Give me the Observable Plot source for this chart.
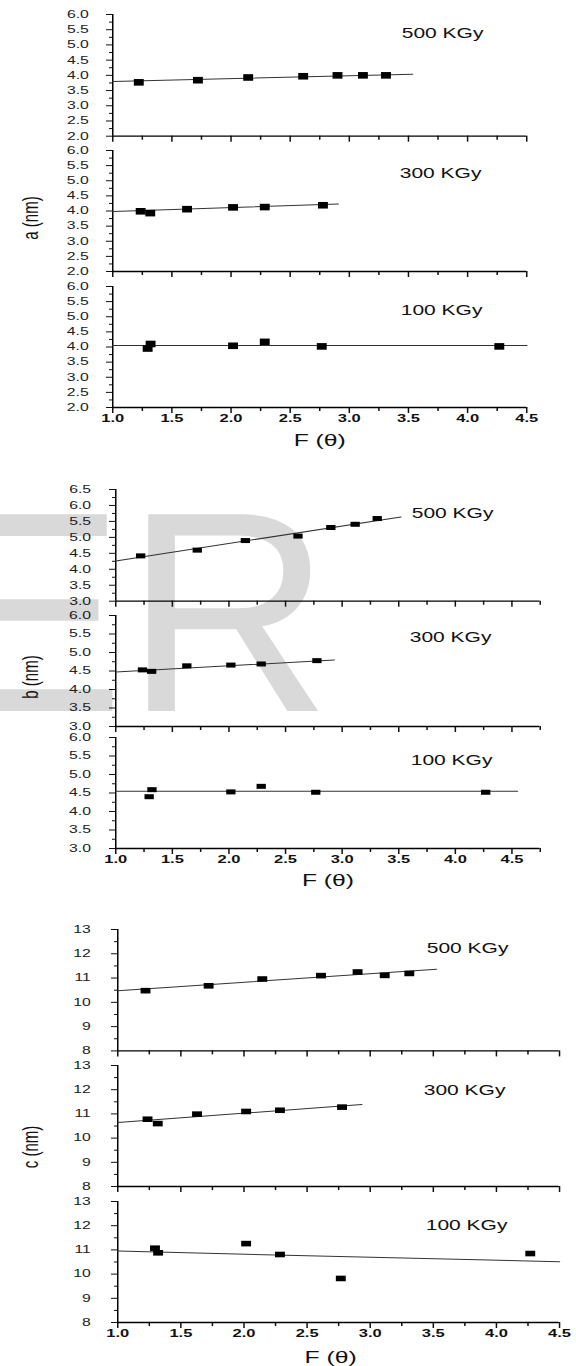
<!DOCTYPE html>
<html>
<head>
<meta charset="utf-8">
<script src="https://cdn.jsdelivr.net/npm/d3@7"></script>
<script src="https://cdn.jsdelivr.net/npm/@observablehq/plot@0.6"></script>
<style>
  html, body { margin: 0; padding: 0; background: #fff; }
  #root { position: relative; width: 576px; height: 1366px; overflow: hidden; }
  #root svg { position: absolute; left: 0; overflow: visible; }
</style>
</head>
<body>
<div id="root"></div>
<script>
// ---------------- data ----------------
const doses = ["500 KGy", "300 KGy", "100 KGy"];
const yTitles = ["a (nm)", "b (nm)", "c (nm)"];
const xTitle = "F (θ)";

// F(θ) values of the points for each dose
const f500 = [1.22, 1.72, 2.145, 2.61, 2.90, 3.115, 3.31];
const f300 = [1.236, 1.317, 1.628, 2.017, 2.285, 2.777];
const f100 = [1.295, 1.32, 2.017, 2.285, 2.767, 4.268];

// lattice parameter a (nm)
const a500 = [3.77, 3.84, 3.93, 3.97, 4.00, 4.00, 4.00];
const a300 = [3.99, 3.93, 4.06, 4.12, 4.13, 4.19];
const a100 = [3.95, 4.10, 4.04, 4.17, 4.02, 4.02];
// lattice parameter b (nm)
const b500 = [4.42, 4.60, 4.90, 5.04, 5.31, 5.41, 5.59];
const b300 = [4.53, 4.49, 4.64, 4.66, 4.69, 4.78];
const b100 = [4.40, 4.59, 4.53, 4.68, 4.52, 4.52];
// lattice parameter c (nm)
const c500 = [10.48, 10.68, 10.96, 11.10, 11.25, 11.11, 11.19];
const c300 = [10.78, 10.60, 10.99, 11.10, 11.15, 11.28];
const c100 = [11.07, 10.88, 11.26, 10.81, 9.82, 10.85];

// fitted lines: [start, end] F(θ) and values
const fitA500F = [1.0, 3.535], fitA500 = [3.80, 4.04];
const fitA300F = [1.0, 2.907], fitA300 = [3.98, 4.23];
const fitA100F = [1.0, 4.5],   fitA100 = [4.05, 4.05];
const fitB500F = [1.0, 3.519], fitB500 = [4.26, 5.64];
const fitB300F = [1.0, 2.93],  fitB300 = [4.47, 4.80];
const fitB100F = [1.0, 4.549], fitB100 = [4.55, 4.55];
const fitC500F = [1.0, 3.525], fitC500 = [10.48, 11.36];
const fitC300F = [1.0, 2.934], fitC300 = [10.64, 11.39];
const fitC100F = [1.0, 4.5],   fitC100 = [10.95, 10.51];

// ticks
const xMajor = [1.0, 1.5, 2.0, 2.5, 3.0, 3.5, 4.0, 4.5];
const xMinorA = [1.25, 1.75, 2.25, 2.75, 3.25, 3.75, 4.25];
const xMinorB = [1.25, 1.75, 2.25, 2.75, 3.25, 3.75, 4.25, 4.75];
const yMajorA = [2.0, 2.5, 3.0, 3.5, 4.0, 4.5, 5.0, 5.5, 6.0];
const yMinorA = [2.25, 2.75, 3.25, 3.75, 4.25, 4.75, 5.25, 5.75];
const yMajorB1 = [3.0, 3.5, 4.0, 4.5, 5.0, 5.5, 6.0, 6.5];
const yMinorB1 = [3.25, 3.75, 4.25, 4.75, 5.25, 5.75, 6.25];
const yMajorB = [3.0, 3.5, 4.0, 4.5, 5.0, 5.5, 6.0];
const yMinorB = [3.25, 3.75, 4.25, 4.75, 5.25, 5.75];
const yMajorC = [8, 9, 10, 11, 12, 13];
const yMinorC = [8.5, 9.5, 10.5, 11.5, 12.5];

// ---------------- layout ----------------
const S = 1.5;            // horizontal stretch of the original figure
const W = 576 / S;
const FONT = "'Liberation Sans', Arial, sans-serif";
const root = document.getElementById("root");

// watermark (behind the chart)
const wm = d3.select(root).append("svg")
  .attr("width", 576).attr("height", 1366).style("top", "0px");
wm.append("text").attr("x", -66).attr("y", 711)
  .attr("font-family", FONT).attr("font-size", 286).attr("fill", "#d9d9d9").text("ER");

function rectSymbol(w, h) {
  return { draw(ctx) {
    ctx.moveTo(-w / 2, -h / 2); ctx.lineTo(w / 2, -h / 2);
    ctx.lineTo(w / 2, h / 2); ctx.lineTo(-w / 2, h / 2); ctx.closePath();
  } };
}

function panel(c) {
  const mt = 12, mb = c.bottom ? 50 : 10;
  const fh = c.frameBottom - c.frameTop;
  const ml = c.axisPx / S, mr = (576 - c.endPx) / S;
  const pts = c.F.map((f, i) => ({ f, v: c.V[i] }));
  const fit = c.fitF.map((f, i) => ({ f, v: c.fitV[i] }));
  const marks = [
    Plot.axisY(c.yMajor, { tickSize: 4, tickPadding: c.yPad, tickFormat: c.yFmt, fontSize: 10.5, label: null, fill: "#222" }),
    Plot.axisY(c.yMinor, { tickSize: 2, tickFormat: () => "", label: null }),
    Plot.axisX(xMajor, { tickSize: 6, tickPadding: 1, tickFormat: c.bottom ? d3.format(".1f") : () => "",
      fontWeight: "bold", fontSize: 11, label: null, fill: "#111" }),
    Plot.axisX(c.xMinor, { tickSize: 4, tickFormat: () => "", label: null }),
    Plot.ruleX([c.xDomain[0]], { stroke: "#000", strokeWidth: 1 }),
    Plot.ruleY([c.yDomain[0]], { stroke: "#000", strokeWidth: 1.3 }),
    Plot.line(fit, { x: "f", y: "v", stroke: "#333", strokeWidth: 1 }),
    Plot.dot(pts, { x: "f", y: "v", symbol: c.sym, fill: "#000", stroke: "none", r: 4 }),
    Plot.text([c.dose], { text: d => d, frameAnchor: "top-left", dx: c.labelDx / S, dy: c.labelDy,
      textAnchor: "start", lineAnchor: "middle", fontSize: 14, fill: "#111" })
  ];
  if (c.ylab) {
    marks.push(Plot.text([c.ylab], { text: d => d, frameAnchor: "left", dx: c.ylabDx / S, dy: c.ylabDy,
      rotate: -90, fontSize: 15, textAnchor: "middle", lineAnchor: "middle", fill: "#111" }));
  }
  if (c.bottom) {
    marks.push(Plot.text([xTitle], { text: d => d, frameAnchor: "bottom", dx: (c.titleDx || 0) / S, dy: c.titleDy,
      fontSize: 16.5, textAnchor: "middle", lineAnchor: "middle", fill: "#111" }));
  }
  const svg = Plot.plot({
    width: W, height: mt + fh + mb,
    marginLeft: ml, marginRight: mr, marginTop: mt, marginBottom: mb,
    x: { domain: c.xDomain }, y: { domain: c.yDomain },
    style: { fontFamily: FONT, background: "transparent", overflow: "visible", color: "#111" },
    marks
  });
  svg.style.top = (c.frameTop - mt) + "px";
  svg.style.transform = `scaleX(${S})`;
  svg.style.transformOrigin = "0 0";
  root.appendChild(svg);
}

const fmt1 = d3.format(".1f"), fmt0 = d3.format("d");
const symA = rectSymbol(6.6, 6.6), symB = rectSymbol(6.2, 5.0), symC = rectSymbol(6.6, 5.6);

// group a
const gA = { axisPx: 112, endPx: 526, xDomain: [1, 4.5], xMinor: xMinorA, yDomain: [2, 6],
  yMajor: yMajorA, yMinor: yMinorA, yFmt: fmt1, yPad: 12, sym: symA };
panel({ ...gA, frameTop: 14, frameBottom: 135.7, F: f500, V: a500, fitF: fitA500F, fitV: fitA500,
  dose: doses[0], labelDx: 289, labelDy: 19 });
panel({ ...gA, frameTop: 150, frameBottom: 271, F: f300, V: a300, fitF: fitA300F, fitV: fitA300,
  dose: doses[1], labelDx: 287, labelDy: 23, ylab: yTitles[0], ylabDx: -82, ylabDy: 7 });
panel({ ...gA, frameTop: 285.7, frameBottom: 406.7, F: f100, V: a100, fitF: fitA100F, fitV: fitA100,
  dose: doses[2], labelDx: 288, labelDy: 24, bottom: true, titleDy: 33 });

// group b
const gB = { axisPx: 115, endPx: 539.5, xDomain: [1, 4.75], xMinor: xMinorB, yFmt: fmt1, yPad: 12.5, sym: symB };
panel({ ...gB, frameTop: 489.3, frameBottom: 601, yDomain: [3, 6.5], yMajor: yMajorB1, yMinor: yMinorB1,
  F: f500, V: b500, fitF: fitB500F, fitV: fitB500, dose: doses[0], labelDx: 296, labelDy: 24 });
panel({ ...gB, frameTop: 615, frameBottom: 726, yDomain: [3, 6], yMajor: yMajorB, yMinor: yMinorB,
  F: f300, V: b300, fitF: fitB300F, fitV: fitB300, dose: doses[1], labelDx: 294, labelDy: 22,
  ylab: yTitles[1], ylabDx: -85, ylabDy: 6 });
panel({ ...gB, frameTop: 737.3, frameBottom: 848.3, yDomain: [3, 6], yMajor: yMajorB, yMinor: yMinorB,
  F: f100, V: b100, fitF: fitB100F, fitV: fitB100, dose: doses[2], labelDx: 295, labelDy: 23,
  bottom: true, titleDy: 32 });

// group c
const gC = { axisPx: 117, endPx: 558.8, xDomain: [1, 4.5], xMinor: xMinorA, yDomain: [8, 13],
  yMajor: yMajorC, yMinor: yMinorC, yFmt: fmt0, yPad: 14, sym: symC };
panel({ ...gC, frameTop: 929.3, frameBottom: 1050.7, F: f500, V: c500, fitF: fitC500F, fitV: fitC500,
  dose: doses[0], labelDx: 309, labelDy: 19 });
panel({ ...gC, frameTop: 1065, frameBottom: 1186, F: f300, V: c300, fitF: fitC300F, fitV: fitC300,
  dose: doses[1], labelDx: 306, labelDy: 25, ylab: yTitles[2], ylabDx: -87, ylabDy: 21 });
panel({ ...gC, frameTop: 1200.7, frameBottom: 1321.7, F: f100, V: c100, fitF: fitC100F, fitV: fitC100,
  dose: doses[2], labelDx: 308, labelDy: 24, bottom: true, titleDy: 35, titleDx: -8 });
</script>
</body>
</html>
